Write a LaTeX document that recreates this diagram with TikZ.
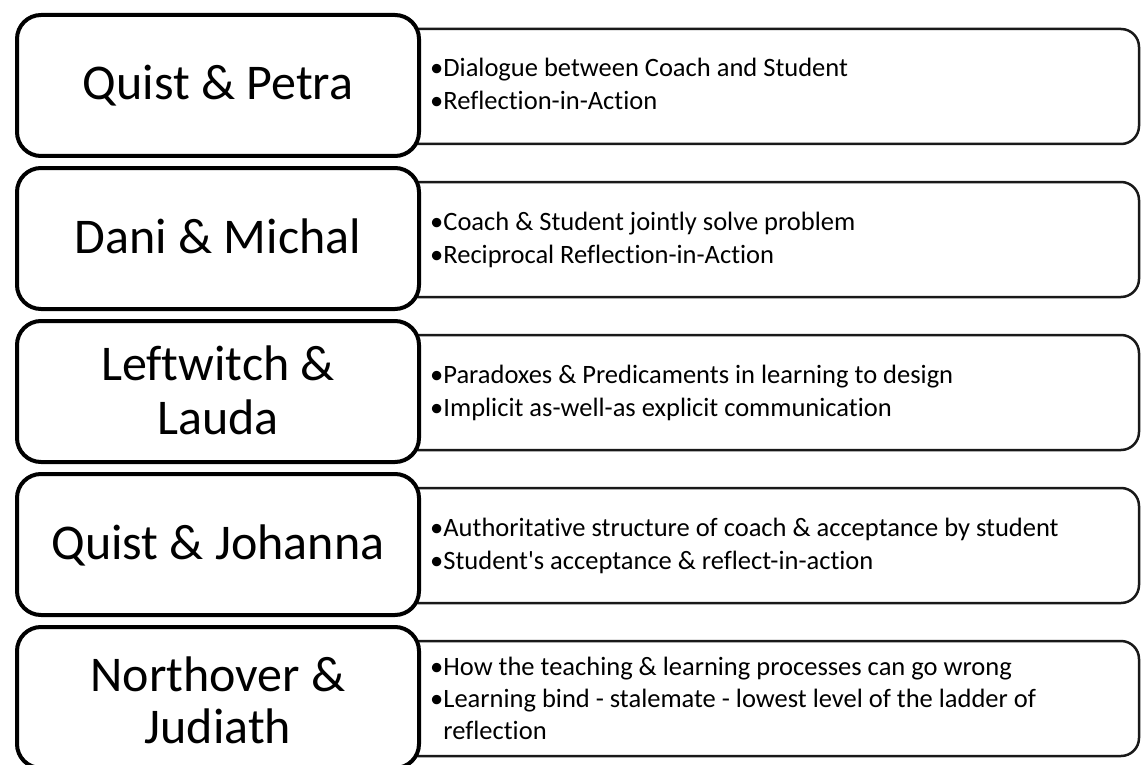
\documentclass[tikz,border=0pt]{standalone}
\usepackage{fontspec}
\setmainfont{Carlito}[Ligatures={TeXOff,NoCommon}]
\begin{document}
\begin{tikzpicture}[x=1pt,y=-1pt,
  leftbox/.style={draw=black, line width=4pt, rounded corners=24pt, fill=white,
    minimum width=402pt, minimum height=141pt, inner sep=0pt},
  rightbox/.style={draw=black!90, line width=2.5pt, rounded corners=18pt, fill=white,
    minimum width=739pt, minimum height=115pt, inner sep=0pt},
  pairtext/.style={anchor=base, inner sep=0pt, font=\fontsize{50}{53}\selectfont},
  bullettext/.style={anchor=base west, inner sep=0pt, font=\fontsize{26.5}{33}\selectfont}]
\useasboundingbox (0,0) rectangle (1143,765);
\clip (0,0) rectangle (1143,765);

% right boxes
\node[rightbox] (R1) at (769.5,86.5) {};
\node[rightbox] (R2) at (769.5,239.5) {};
\node[rightbox] (R3) at (769.5,392.5) {};
\node[rightbox] (R4) at (769.5,545.5) {};
\node[rightbox] (R5) at (769.5,698.5) {};

% left boxes
\node[leftbox] (L1) at (218,85.5) {};
\node[leftbox] (L2) at (218,238.5) {};
\node[leftbox] (L3) at (218,391.5) {};
\node[leftbox] (L4) at (218,544.5) {};
\node[leftbox] (L5) at (218,697.5) {};

% left texts
\node[pairtext] (t1) at (218,100) {Quist \& Petra};
\node[pairtext] (t2) at (218,253) {Dani \& Michal};
\node[pairtext] (t3a) at (218,380) {Leftwitch \&};
\node[pairtext] (t3b) at (218,434) {Lauda};
\node[pairtext] (t4) at (218,559) {Quist \& Johanna};
\node[pairtext] (t5a) at (218,691) {Northover \&};
\node[pairtext] (t5b) at (218,743) {Judiath};

% right texts
\node[bullettext] (b1a) at (430,77) {•Dialogue between Coach and Student};
\node[bullettext] (b1b) at (430,110) {•Reflection-in-Action};
\node[bullettext] (b2a) at (430,230) {•Coach \& Student jointly solve problem};
\node[bullettext] (b2b) at (430,263) {•Reciprocal Reflection-in-Action};
\node[bullettext] (b3a) at (430,383) {•Paradoxes \& Predicaments in learning to design};
\node[bullettext] (b3b) at (430,416) {•Implicit as-well-as explicit communication};
\node[bullettext] (b4a) at (430,536) {•Authoritative structure of coach \& acceptance by student};
\node[bullettext] (b4b) at (430,569) {•Student's acceptance \& reflect-in-action};
\node[bullettext] (b5a) at (430,675) {•How the teaching \& learning processes can go wrong};
\node[bullettext] (b5b) at (430,707) {•Learning bind - stalemate - lowest level of the ladder of};
\node[bullettext] (b5c) at (430,739) {\phantom{•}reflection};
\end{tikzpicture}
\end{document}
